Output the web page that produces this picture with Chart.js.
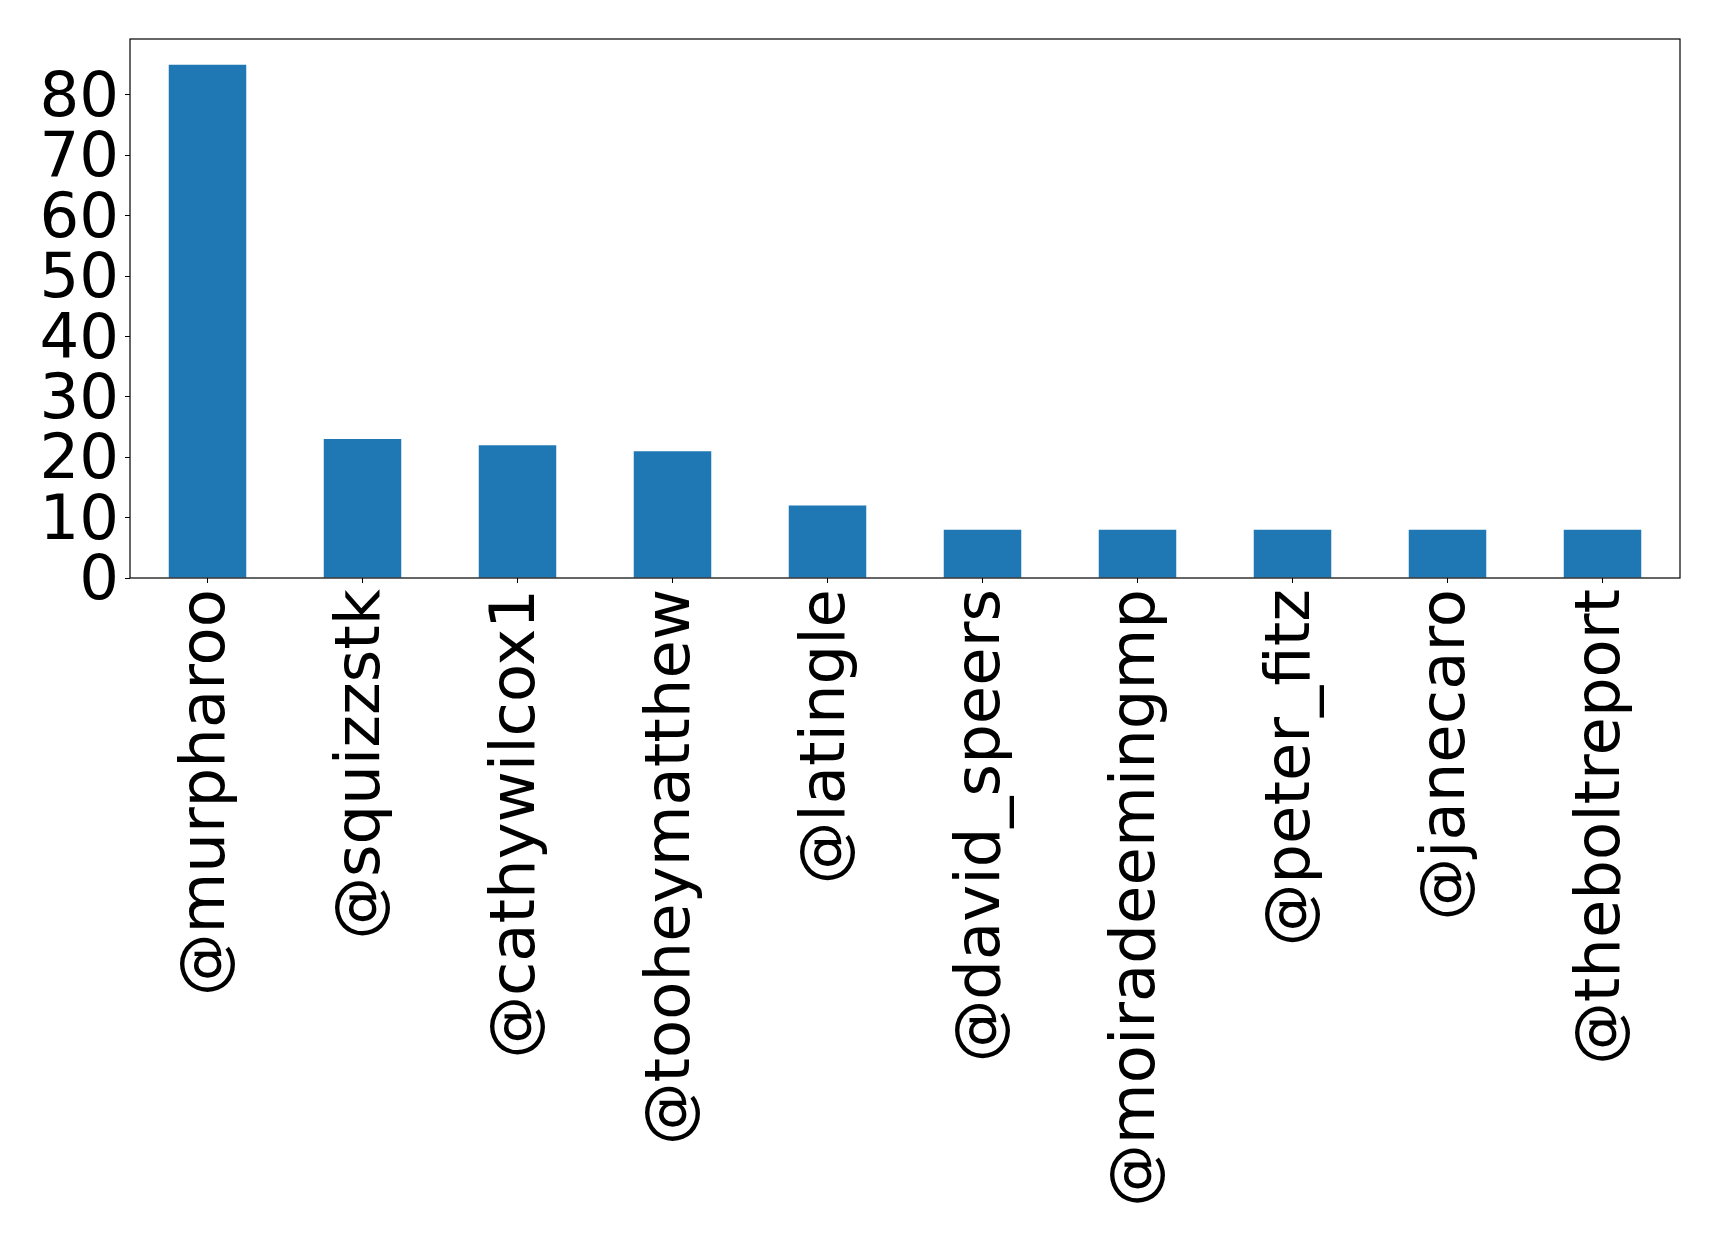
<!DOCTYPE html>
<html>
<head>
<meta charset="utf-8">
<script src="https://cdn.jsdelivr.net/npm/chart.js@4/dist/chart.umd.min.js"></script>
<style>
  html, body { margin: 0; padding: 0; background: #fff; }
  canvas { display: block; }
</style>
</head>
<body>
<canvas id="grafico" width="1719" height="1245"></canvas>
<script>
const usuarios = ['@murpharoo', '@squizzstk', '@cathywilcox1', '@tooheymatthew', '@latingle',
                  '@david_speers', '@moiradeemingmp', '@peter_fitz', '@janecaro', '@theboltreport'];
const menciones = [85, 23, 22, 21, 12, 8, 8, 8, 8, 8];
const ticksY = [0, 10, 20, 30, 40, 50, 60, 70, 80];

const fuente = { family: 'DejaVu Sans', size: 62.5 };

// marco completo alrededor del area del grafico (estilo matplotlib)
const marco = {
    id: 'marco',
    afterDraw(chart) {
        const { ctx, chartArea: a } = chart;
        ctx.save();
        ctx.strokeStyle = '#000';
        ctx.lineWidth = 1.2;
        ctx.strokeRect(a.left, a.top, a.right - a.left, a.bottom - a.top);
        ctx.restore();
    }
};

new Chart(document.getElementById('grafico').getContext('2d'), {
    type: 'bar',
    data: {
        labels: usuarios,
        datasets: [{
            data: menciones,
            backgroundColor: '#1f77b4',
            borderWidth: 0,
            categoryPercentage: 0.5,
            barPercentage: 1.0
        }]
    },
    options: {
        responsive: false,
        animation: false,
        layout: { padding: { top: 39, right: 39, left: 0, bottom: 0 } },
        plugins: {
            legend: { display: false },
            tooltip: { enabled: false }
        },
        scales: {
            x: {
                grid: { offset: false, drawOnChartArea: false, drawTicks: true, tickLength: 5, color: '#000' },
                border: { display: false },
                ticks: {
                    autoSkip: false,
                    minRotation: 90,
                    maxRotation: 90,
                    padding: 6,
                    color: '#000',
                    font: fuente
                },
                afterFit: s => {
                    s.height = 667;
                    s.paddingLeft = 0;
                    s.paddingRight = 0;
                }
            },
            y: {
                min: 0,
                max: 89.25,
                grid: { drawOnChartArea: false, drawTicks: true, tickLength: 5, color: '#000' },
                border: { display: false },
                ticks: {
                    autoSkip: false,
                    padding: 6,
                    labelOffset: 5,
                    color: '#000',
                    font: fuente
                },
                afterBuildTicks: s => { s.ticks = ticksY.map(v => ({ value: v })); },
                afterFit: s => {
                    s.width = 130;
                    s.paddingTop = 0;
                    s.paddingBottom = 0;
                }
            }
        }
    },
    plugins: [marco]
});
</script>
</body>
</html>
